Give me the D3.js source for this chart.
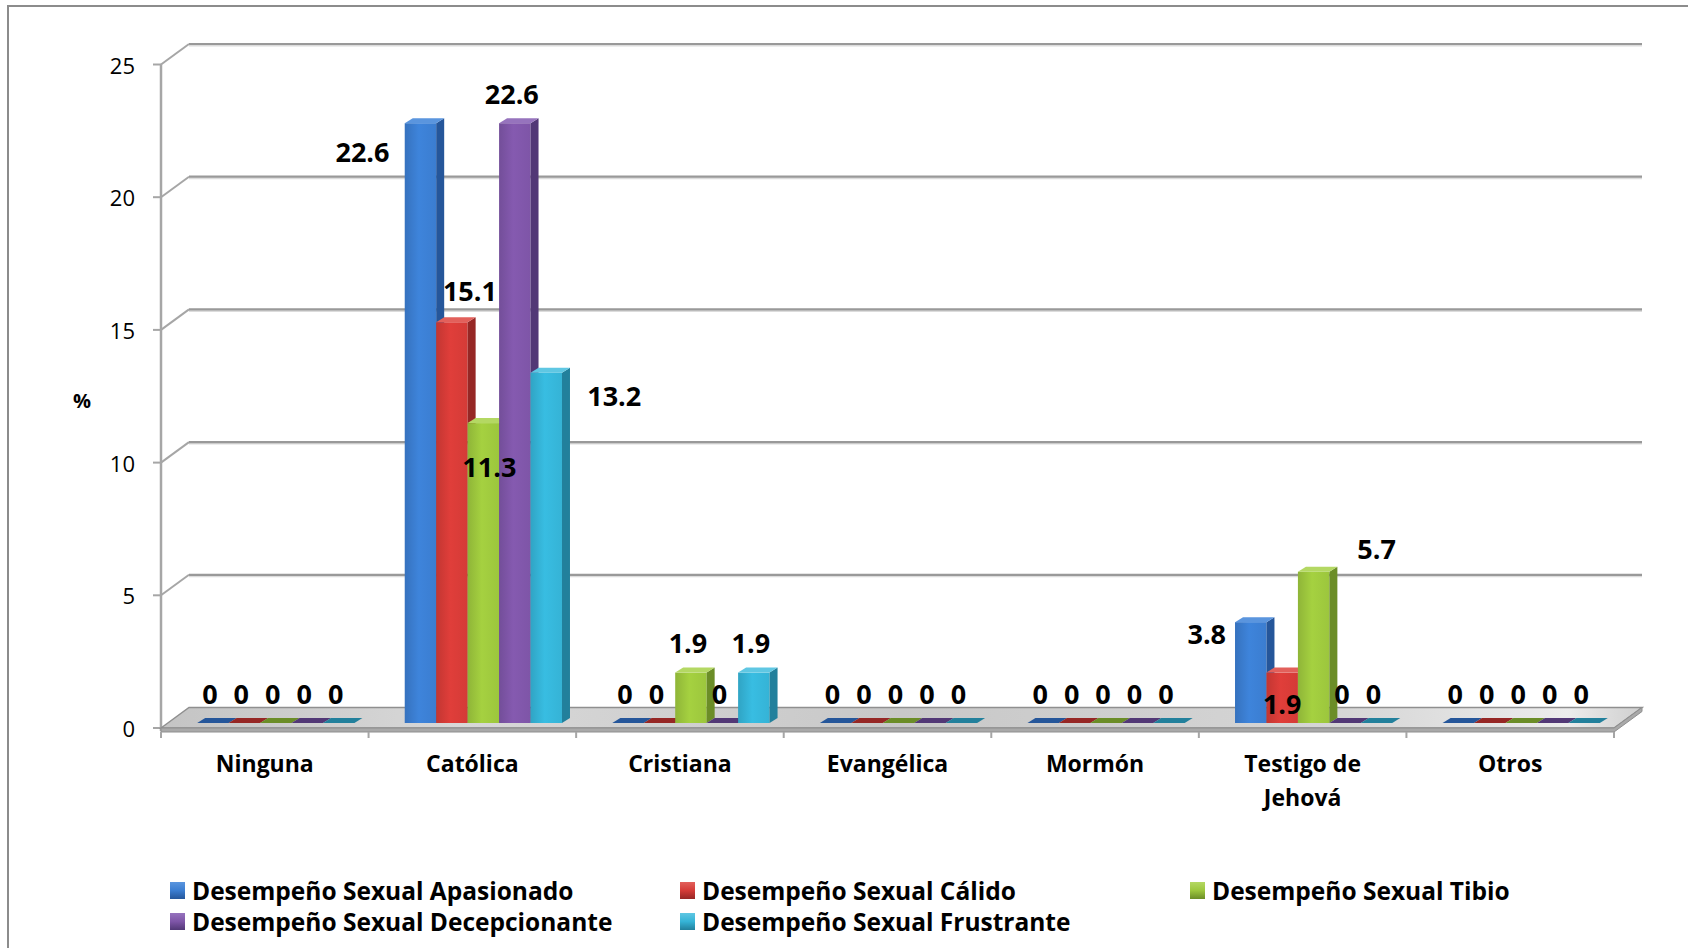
<!DOCTYPE html>
<html>
<head>
<meta charset="utf-8">
<script src="https://cdn.jsdelivr.net/npm/d3@7"></script>
<style>
  body { margin: 0; background: #fff; }
  svg { display: block; font-family: "Open Sans", Lato, sans-serif; }
</style>
</head>
<body>
<div id="chart"></div>
<script>
// data
var categories = ["Ninguna", "Católica", "Cristiana", "Evangélica", "Mormón", "Testigo de Jehová", "Otros"];
var seriesNames = [
  "Desempeño Sexual Apasionado",
  "Desempeño Sexual Cálido",
  "Desempeño Sexual Tibio",
  "Desempeño Sexual Decepcionante",
  "Desempeño Sexual Frustrante"
];
var apasionado    = [0, 22.6, 0,   0, 0, 3.8, 0];
var calido        = [0, 15.1, 0,   0, 0, 1.9, 0];
var tibio         = [0, 11.3, 1.9, 0, 0, 5.7, 0];
var decepcionante = [0, 22.6, 0,   0, 0, 0,   0];
var frustrante    = [0, 13.2, 1.9, 0, 0, 0,   0];
var yTicks = [0, 5, 10, 15, 20, 25];

// labels excel pushed away from their default spot
var labelNudge = [
  { cat: 1, s: 0, dx: -55, dy: 58 },
  { cat: 1, s: 1, dx: 21, dy: -2 },
  { cat: 1, s: 2, dx: 9, dy: 73 },
  { cat: 1, s: 4, dx: 71, dy: 53 },
  { cat: 5, s: 0, dx: -41, dy: 41 },
  { cat: 5, s: 1, dx: 3, dy: 61 },
  { cat: 5, s: 2, dx: 66, dy: 7 }
];

var values = [apasionado, calido, tibio, decepcionante, frustrante];
var front = ["#3b7dd0", "#d43b37", "#9cc63d", "#7e55a7", "#35b3d6"];
var side  = ["#25569a", "#962725", "#6b8d27", "#523876", "#22809c"];
var topC  = ["#5a95de", "#e2605b", "#b4d863", "#9673bd", "#5fc7e3"];

function draw(){
  var W = 1688, H = 948;
  var x0 = 161, x1 = 1614;
  var DX = 28, DY = -20.5;      // wall depth
  var BX = 11, BY = -5;         // bar front shift from front plane
  var bdx = 8, bdy = -5;        // bar depth

  var svg = d3.select("#chart").append("svg")
      .attr("width", W)
      .attr("height", H);

  var defs = svg.append("defs");

  var x = d3.scaleBand().domain(d3.range(categories.length)).range([x0, x1]);
  var xs = d3.scaleBand().domain(d3.range(seriesNames.length))
      .range([0, x.bandwidth()]).paddingOuter(0.8);
  var y = d3.scaleLinear().domain([0, 25]).range([728, 64.5]);
  var bw = xs.bandwidth();

  // outer frame
  svg.append("rect")
      .attr("x", 8).attr("y", 6)
      .attr("width", W).attr("height", H)
      .attr("fill", "none")
      .attr("stroke", "#8c8c8c")
      .attr("stroke-width", 2);

  // back wall gridlines + side wall diagonals
  var grid = svg.append("g");
  yTicks.filter(function(t){ return t > 0; }).forEach(function(t){
    grid.append("line")
        .attr("x1", x0 + DX).attr("x2", x1 + DX)
        .attr("y1", y(t) + DY + 1.5).attr("y2", y(t) + DY + 1.5)
        .attr("stroke", "#dcdcdc").attr("stroke-width", 2);
    grid.append("line")
        .attr("x1", x0 + DX).attr("x2", x1 + DX)
        .attr("y1", y(t) + DY).attr("y2", y(t) + DY)
        .attr("stroke", "#999").attr("stroke-width", 2.2);
    grid.append("line")
        .attr("x1", x0).attr("x2", x0 + DX)
        .attr("y1", y(t)).attr("y2", y(t) + DY)
        .attr("stroke", "#a6a6a6").attr("stroke-width", 2);
  });

  // y axis
  svg.append("line")
      .attr("x1", x0).attr("x2", x0)
      .attr("y1", y(25)).attr("y2", y(0) + 3)
      .attr("stroke", "#a6a6a6").attr("stroke-width", 2.5);
  var yAx = svg.append("g");
  yTicks.forEach(function(t){
    yAx.append("line")
        .attr("x1", x0 - 8).attr("x2", x0)
        .attr("y1", y(t)).attr("y2", y(t))
        .attr("stroke", "#a6a6a6").attr("stroke-width", 2);
    yAx.append("text")
        .attr("x", 135).attr("y", y(t))
        .attr("text-anchor", "end")
        .attr("dominant-baseline", "central")
        .attr("font-size", 22)
        .attr("fill", "#000")
        .text(t);
  });
  svg.append("text")
      .attr("x", 82).attr("y", 400)
      .attr("text-anchor", "middle")
      .attr("dominant-baseline", "central")
      .attr("font-size", 20).attr("font-weight", "bold")
      .text("%");

  // floor slab
  var fg = defs.append("linearGradient").attr("id", "floor")
      .attr("x1", "0").attr("x2", "1").attr("y1", "0").attr("y2", "0");
  [["0", "#c4c4c4"], ["0.2", "#d8d8d8"], ["0.5", "#c8c8c8"], ["0.8", "#d6d6d6"], ["0.95", "#ececec"], ["1", "#cfcfcf"]]
    .forEach(function(s){ fg.append("stop").attr("offset", s[0]).attr("stop-color", s[1]); });
  var fy = y(0);
  svg.append("path")
      .attr("d", "M" + x0 + "," + fy + "L" + (x0 + DX) + "," + (fy + DY) +
                 "L" + (x1 + DX) + "," + (fy + DY) + "L" + x1 + "," + fy + "Z")
      .attr("fill", "url(#floor)")
      .attr("stroke", "#8f8f8f").attr("stroke-width", 1.5);
  svg.append("path")
      .attr("d", "M" + x0 + "," + fy + "L" + x1 + "," + fy + "L" + (x1 + DX) + "," + (fy + DY) +
                 "L" + (x1 + DX) + "," + (fy + DY + 4) + "L" + x1 + "," + (fy + 4) + "L" + x0 + "," + (fy + 4) + "Z")
      .attr("fill", "#a9a9a9")
      .attr("stroke", "#8f8f8f").attr("stroke-width", 1);

  // category ticks
  d3.range(categories.length + 1).forEach(function(i){
    var cx = x0 + i * x.step();
    svg.append("line")
        .attr("x1", cx).attr("x2", cx)
        .attr("y1", fy + 4).attr("y2", fy + 10)
        .attr("stroke", "#a6a6a6").attr("stroke-width", 2);
  });

  // bar gradients
  front.forEach(function(c, i){
    var g = defs.append("linearGradient").attr("id", "bf" + i)
        .attr("x1", "0").attr("x2", "1").attr("y1", "0").attr("y2", "0");
    g.append("stop").attr("offset", "0").attr("stop-color", d3.color(c).darker(0.25));
    g.append("stop").attr("offset", "0.45").attr("stop-color", d3.color(c).brighter(0.15));
    g.append("stop").attr("offset", "1").attr("stop-color", c);
  });

  // bars, left to right so neighbours hide side faces
  var bars = svg.append("g");
  categories.forEach(function(cat, ci){
    values.forEach(function(arr, si){
      var v = arr[ci];
      var bx = x(ci) + xs(si) + BX;
      var by = y(v) + BY;
      var bb = y(0) + BY;
      var g = bars.append("g");
      if (v > 0) {
        g.append("rect")
            .attr("x", bx).attr("y", by)
            .attr("width", bw).attr("height", bb - by)
            .attr("fill", "url(#bf" + si + ")");
        g.append("path")
            .attr("d", "M" + (bx + bw) + "," + by + "L" + (bx + bw + bdx) + "," + (by + bdy) +
                       "L" + (bx + bw + bdx) + "," + (bb + bdy) + "L" + (bx + bw) + "," + bb + "Z")
            .attr("fill", side[si]);
        g.append("path")
            .attr("d", "M" + bx + "," + by + "L" + (bx + bdx) + "," + (by + bdy) +
                       "L" + (bx + bw + bdx) + "," + (by + bdy) + "L" + (bx + bw) + "," + by + "Z")
            .attr("fill", topC[si]);
      } else {
        g.append("path")
            .attr("d", "M" + bx + "," + by + "L" + (bx + bdx) + "," + (by + bdy) +
                       "L" + (bx + bw + bdx) + "," + (by + bdy) + "L" + (bx + bw) + "," + by + "Z")
            .attr("fill", side[si]);
      }
    });
  });

  // data labels
  var lab = svg.append("g")
      .attr("font-size", 27).attr("font-weight", "bold")
      .attr("text-anchor", "middle").attr("dominant-baseline", "central");
  categories.forEach(function(cat, ci){
    values.forEach(function(arr, si){
      var v = arr[ci];
      var n = labelNudge.find(function(d){ return d.cat === ci && d.s === si; }) || { dx: 0, dy: 0 };
      lab.append("text")
          .attr("x", x(ci) + xs(si) + BX + bw / 2 - 3 + n.dx)
          .attr("y", y(v) + BY - 30 + n.dy)
          .text(v);
    });
  });

  // category labels with wrapping
  var cl = svg.append("g")
      .attr("font-size", 23).attr("font-weight", "bold")
      .attr("text-anchor", "middle");
  categories.forEach(function(cat, ci){
    var t = cl.append("text").attr("x", x(ci) + x.bandwidth() / 2).attr("y", 772);
    var words = cat.split(" "), line = [];
    var ts = t.append("tspan").attr("x", x(ci) + x.bandwidth() / 2);
    words.forEach(function(w){
      line.push(w);
      ts.text(line.join(" "));
      if (ts.node().getComputedTextLength() > 150 && line.length > 1) {
        line.pop();
        ts.text(line.join(" "));
        line = [w];
        ts = t.append("tspan").attr("x", x(ci) + x.bandwidth() / 2).attr("dy", 34).text(w);
      }
    });
  });

  // legend
  var legX = [170, 680, 1190];
  var legY = [890, 921];
  var leg = svg.append("g");
  seriesNames.forEach(function(name, i){
    var lx = legX[i % 3], ly = legY[Math.floor(i / 3)];
    var lg = defs.append("linearGradient").attr("id", "lg" + i)
        .attr("x1", "0").attr("x2", "0").attr("y1", "0").attr("y2", "1");
    lg.append("stop").attr("offset", "0").attr("stop-color", topC[i]);
    lg.append("stop").attr("offset", "0.5").attr("stop-color", front[i]);
    lg.append("stop").attr("offset", "1").attr("stop-color", side[i]);
    leg.append("rect")
        .attr("x", lx).attr("y", ly - 8)
        .attr("width", 15).attr("height", 17)
        .attr("fill", "url(#lg" + i + ")");
    leg.append("text")
        .attr("x", lx + 22).attr("y", ly)
        .attr("dominant-baseline", "central")
        .attr("font-size", 24.5).attr("font-weight", "bold")
        .text(name);
  });
}
draw();
</script>
</body>
</html>
